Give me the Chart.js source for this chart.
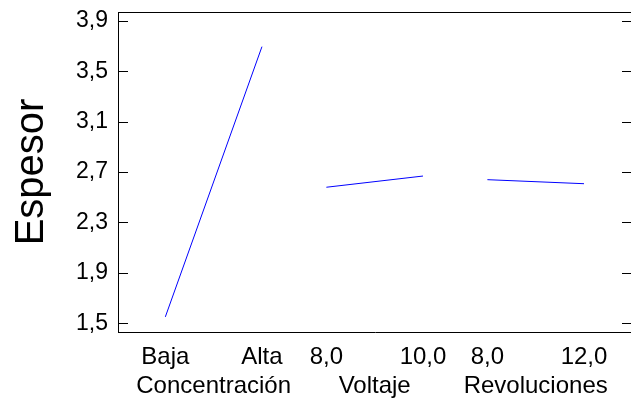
<!DOCTYPE html>
<html>
<head>
<meta charset="utf-8">
<script src="https://cdn.jsdelivr.net/npm/chart.js@4/dist/chart.umd.min.js"></script>
<style>
  html, body { margin: 0; padding: 0; background: #ffffff; overflow: hidden; }
  #wrap { width: 640px; height: 400px; }
</style>
</head>
<body>
<div id="wrap"><canvas id="effectsChart"></canvas></div>
<script>
// factors and levels
const factorNames = ["Concentración", "Voltaje", "Revoluciones"];
const levelLabels = ["Baja", "Alta", "8,0", "10,0", "8,0", "12,0"];
const levelPositions = [0, 3, 5, 8, 10, 13];
const factorCenters = [1.5, 6.5, 11.5];

// mean Espesor at each level
const concentracionValues = [1.55, 3.695];
const voltajeValues = [2.579, 2.668];
const revolucionesValues = [2.639, 2.607];

const yTicks = [1.5, 1.9, 2.3, 2.7, 3.1, 3.5, 3.9];

const FONT = "'Liberation Sans', Arial, sans-serif";

function makeLine(values, startIndex) {
  return {
    data: values.map((v, i) => ({ x: levelPositions[startIndex + i], y: v })),
    borderColor: "#0000ff",
    borderWidth: 1,
    pointRadius: 0,
    fill: false,
    tension: 0
  };
}

// no extra room for half labels, the frame is fixed
function noScalePadding(scale) {
  scale.paddingTop = 0;
  scale.paddingBottom = 0;
  scale.paddingLeft = 0;
  scale.paddingRight = 0;
}

// inward ticks on both sides + top frame line
const framePlugin = {
  id: "framePlugin",
  afterDraw(chart) {
    const ctx = chart.ctx;
    const area = chart.chartArea;
    const yScale = chart.scales.y;
    ctx.save();
    ctx.strokeStyle = "#000000";
    ctx.lineWidth = 1;
    ctx.beginPath();
    ctx.moveTo(area.left, area.top + 0.5);
    ctx.lineTo(area.right, area.top + 0.5);
    yTicks.forEach((t) => {
      const py = Math.round(yScale.getPixelForValue(t)) + 0.5;
      ctx.moveTo(area.left, py);
      ctx.lineTo(area.left + 10, py);
      ctx.moveTo(area.right - 10, py);
      ctx.lineTo(area.right, py);
    });
    ctx.stroke();
    ctx.restore();
  }
};

const ctx = document.getElementById("effectsChart").getContext("2d");

new Chart(ctx, {
  type: "line",
  data: {
    datasets: [
      makeLine(concentracionValues, 0),
      makeLine(voltajeValues, 2),
      makeLine(revolucionesValues, 4)
    ]
  },
  options: {
    responsive: true,
    maintainAspectRatio: false,
    animation: false,
    layout: {
      padding: { top: 12, right: 8, left: 0, bottom: 0 }
    },
    plugins: {
      legend: { display: false },
      tooltip: { enabled: false }
    },
    scales: {
      x: {
        type: "linear",
        position: "bottom",
        min: -1.47,
        max: 14.49,
        afterBuildTicks: (scale) => {
          scale.ticks = levelPositions.map((v) => ({ value: v }));
        },
        afterFit: (scale) => {
          scale.height = 40;
          noScalePadding(scale);
        },
        ticks: {
          color: "#000000",
          font: { family: FONT, size: 24 },
          padding: 11,
          maxRotation: 0,
          autoSkip: false,
          callback: (value, index) => levelLabels[index]
        },
        grid: { display: false, drawTicks: false },
        border: { display: true, color: "#000000", width: 1 }
      },
      x2: {
        type: "linear",
        position: "bottom",
        min: -1.47,
        max: 14.49,
        afterBuildTicks: (scale) => {
          scale.ticks = factorCenters.map((v) => ({ value: v }));
        },
        afterFit: (scale) => {
          scale.height = 28;
          noScalePadding(scale);
        },
        ticks: {
          color: "#000000",
          font: { family: FONT, size: 24 },
          padding: 0,
          maxRotation: 0,
          autoSkip: false,
          callback: (value, index) => factorNames[index]
        },
        grid: { display: false, drawTicks: false },
        border: { display: false }
      },
      y: {
        type: "linear",
        min: 1.43,
        max: 3.97,
        afterBuildTicks: (scale) => {
          scale.ticks = yTicks.map((v) => ({ value: v }));
        },
        afterFit: (scale) => {
          scale.width = 118;
          noScalePadding(scale);
        },
        ticks: {
          color: "#000000",
          font: { family: FONT, size: 23 },
          padding: 10,
          callback: (value) => value.toFixed(1).replace(".", ",")
        },
        grid: { display: false, drawTicks: false },
        border: { display: true, color: "#000000", width: 1 },
        title: {
          display: true,
          text: "Espesor",
          color: "#000000",
          font: { family: FONT, size: 40 },
          padding: { top: 8, bottom: 0 }
        }
      }
    }
  },
  plugins: [framePlugin]
});
</script>
</body>
</html>
